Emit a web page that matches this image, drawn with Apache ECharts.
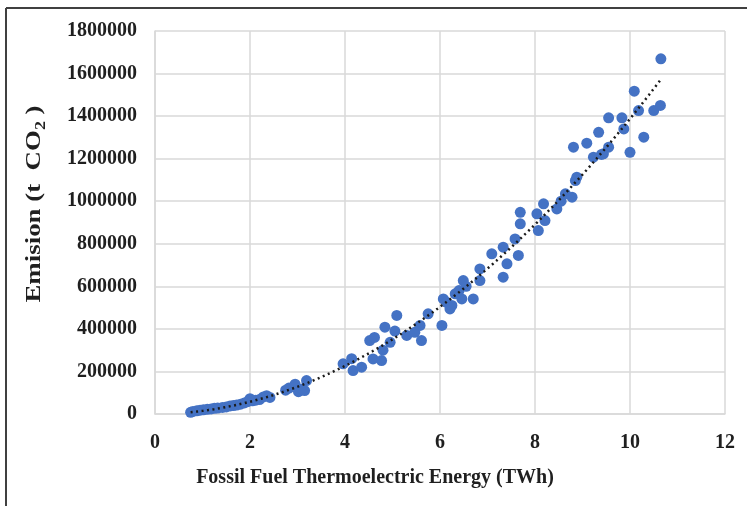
<!DOCTYPE html>
<html>
<head>
<meta charset="utf-8">
<script src="https://cdn.jsdelivr.net/npm/echarts@6/dist/echarts.min.js"></script>
<style>
  html, body { margin: 0; padding: 0; background: #ffffff; }
  #chart { width: 747px; height: 506px; }
</style>
</head>
<body>
<div id="chart"></div>
<script>
// Fossil fuel thermoelectric generation (TWh) against CO2 emission (t)
const energyTWh = [
  0.75, 0.80, 0.88, 0.95, 1.02, 1.10, 1.18, 1.25, 1.32, 1.42,
  1.50, 1.58, 1.65, 1.72, 1.80, 1.88, 1.95, 2.00, 2.05, 2.12,
  2.20, 2.28, 2.35, 2.42, 2.75, 2.82, 2.95, 3.02, 3.10, 3.15,
  3.19, 3.96, 4.14, 4.17, 4.35, 4.52, 4.59, 4.62, 4.77, 4.80,
  4.84, 4.95, 5.09, 5.05, 5.30, 5.47, 5.61, 5.58, 5.75, 6.04,
  6.07, 6.14, 6.21, 6.25, 6.32, 6.40, 6.46, 6.49, 6.55, 6.70,
  6.84, 6.84, 7.09, 7.33, 7.41, 7.33, 7.58, 7.65, 7.69, 7.69,
  8.04, 8.07, 8.18, 8.21, 8.46, 8.55, 8.64, 8.78, 8.85, 8.88,
  8.81, 9.09, 9.23, 9.34, 9.40, 9.44, 9.55, 9.55, 9.83, 9.87,
  10.00, 10.09, 10.18, 10.29, 10.50, 10.64, 10.65
];
const emissionT = [
  8000, 12000, 15000, 18000, 20000, 22000, 24000, 27000, 28000, 31000,
  33000, 38000, 40000, 42000, 46000, 52000, 58000, 72000, 62000, 65000,
  68000, 80000, 86000, 78000, 112000, 122000, 140000, 105000, 118000, 110000,
  157000, 236000, 260000, 204000, 220000, 345000, 259000, 360000, 251000, 300000,
  408000, 337000, 463000, 390000, 369000, 384000, 345000, 416000, 471000, 416000,
  541000, 525000, 494000, 510000, 565000, 580000, 541000, 627000, 600000, 541000,
  682000, 627000, 753000, 784000, 706000, 643000, 823000, 745000, 894000, 948000,
  941000, 862000, 988000, 909000, 964000, 1000000, 1035000, 1019000, 1097000, 1113000,
  1254000, 1273000, 1207000, 1324000, 1220000, 1223000, 1254000, 1392000, 1392000, 1340000,
  1230000, 1517000, 1426000, 1301000, 1426000, 1450000, 1669000
];

const xTicks = { min: 0, max: 12, step: 2 };
const yTicks = { min: 0, max: 1800000, step: 200000 };

const xTitle = 'Fossil Fuel Thermoelectric Energy (TWh)';
const yTitleMain = 'Emision (t  CO';
const yTitleSub = '2';
const yTitleEnd = ' )';

// Least-squares second-order polynomial trend through the observations
function quadFit(xs, ys) {
  let n = xs.length, s = [0, 0, 0, 0, 0], t = [0, 0, 0];
  for (let i = 0; i < n; i++) {
    let p = 1;
    for (let k = 0; k < 5; k++) { s[k] += p; if (k < 3) t[k] += p * ys[i]; p *= xs[i]; }
  }
  const A = [[s[0], s[1], s[2], t[0]], [s[1], s[2], s[3], t[1]], [s[2], s[3], s[4], t[2]]];
  for (let c = 0; c < 3; c++) {
    let piv = c;
    for (let r = c + 1; r < 3; r++) if (Math.abs(A[r][c]) > Math.abs(A[piv][c])) piv = r;
    [A[c], A[piv]] = [A[piv], A[c]];
    for (let r = 0; r < 3; r++) {
      if (r === c) continue;
      const f = A[r][c] / A[c][c];
      for (let k = c; k < 4; k++) A[r][k] -= f * A[c][k];
    }
  }
  return [A[0][3] / A[0][0], A[1][3] / A[1][1], A[2][3] / A[2][2]];
}

const coef = quadFit(energyTWh, emissionT);
const xLo = Math.min(...energyTWh), xHi = Math.max(...energyTWh);
const trend = [];
for (let i = 0; i <= 80; i++) {
  const x = xLo + (xHi - xLo) * i / 80;
  trend.push([x, coef[0] + coef[1] * x + coef[2] * x * x]);
}

const points = energyTWh.map((x, i) => [x, emissionT[i]]);

const serif = '"Liberation Serif", "Times New Roman", serif';
const textColor = '#1f1f1f';
const gridColor = '#d9d9d9';

const chart = echarts.init(document.getElementById('chart'), null, { renderer: 'canvas' });
chart.setOption({
  animation: false,
  backgroundColor: '#ffffff',
  grid: { left: 155, right: 22, top: 31, bottom: 92, containLabel: false },
  xAxis: {
    type: 'value',
    min: xTicks.min, max: xTicks.max, interval: xTicks.step,
    axisLine: { show: true, lineStyle: { color: gridColor, width: 1.5 } },
    axisTick: { show: false },
    splitLine: { show: true, lineStyle: { color: gridColor, width: 1.5 } },
    axisLabel: { margin: 19, color: textColor, fontFamily: serif, fontWeight: 'bold', fontSize: 20 }
  },
  yAxis: {
    type: 'value',
    min: yTicks.min, max: yTicks.max, interval: yTicks.step,
    axisLine: { show: true, lineStyle: { color: gridColor, width: 1.5 } },
    axisTick: { show: false },
    splitLine: { show: true, lineStyle: { color: gridColor, width: 1.5 } },
    axisLabel: {
      margin: 18, color: textColor, fontFamily: serif, fontWeight: 'bold', fontSize: 20,
      formatter: (v) => String(v)
    }
  },
  graphic: [
    { type: 'line', shape: { x1: 6, y1: 8, x2: 747, y2: 8 }, style: { stroke: '#404040', lineWidth: 2 } },
    { type: 'line', shape: { x1: 6, y1: 8, x2: 6, y2: 506 }, style: { stroke: '#404040', lineWidth: 2 } },
    {
      type: 'text', x: 375, y: 478,
      style: {
        text: xTitle, x: 0, y: 0, align: 'center', verticalAlign: 'middle',
        fill: textColor, font: 'bold 20px ' + serif
      }
    },
    {
      type: 'text', x: 35, y: 204, rotation: Math.PI / 2, scaleX: 1.28,
      style: {
        text: '{a|' + yTitleMain + '}{b|' + yTitleSub + '}{a|' + yTitleEnd + '}',
        align: 'center', verticalAlign: 'middle',
        rich: {
          a: { fontFamily: serif, fontWeight: 'bold', fontSize: 21, fill: textColor, lineHeight: 26, verticalAlign: 'middle' },
          b: { fontFamily: serif, fontWeight: 'bold', fontSize: 14, fill: textColor, lineHeight: 26, verticalAlign: 'bottom' }
        }
      }
    }
  ],
  series: [
    {
      type: 'scatter',
      data: points,
      symbol: 'circle',
      symbolSize: 11,
      itemStyle: { color: '#4472C4', opacity: 1 },
      z: 2
    },
    {
      type: 'line',
      data: trend,
      showSymbol: false,
      smooth: false,
      lineStyle: { color: '#1a1a1a', width: 2.5, type: [2, 3.5] },
      z: 3
    }
  ]
});
</script>
</body>
</html>
